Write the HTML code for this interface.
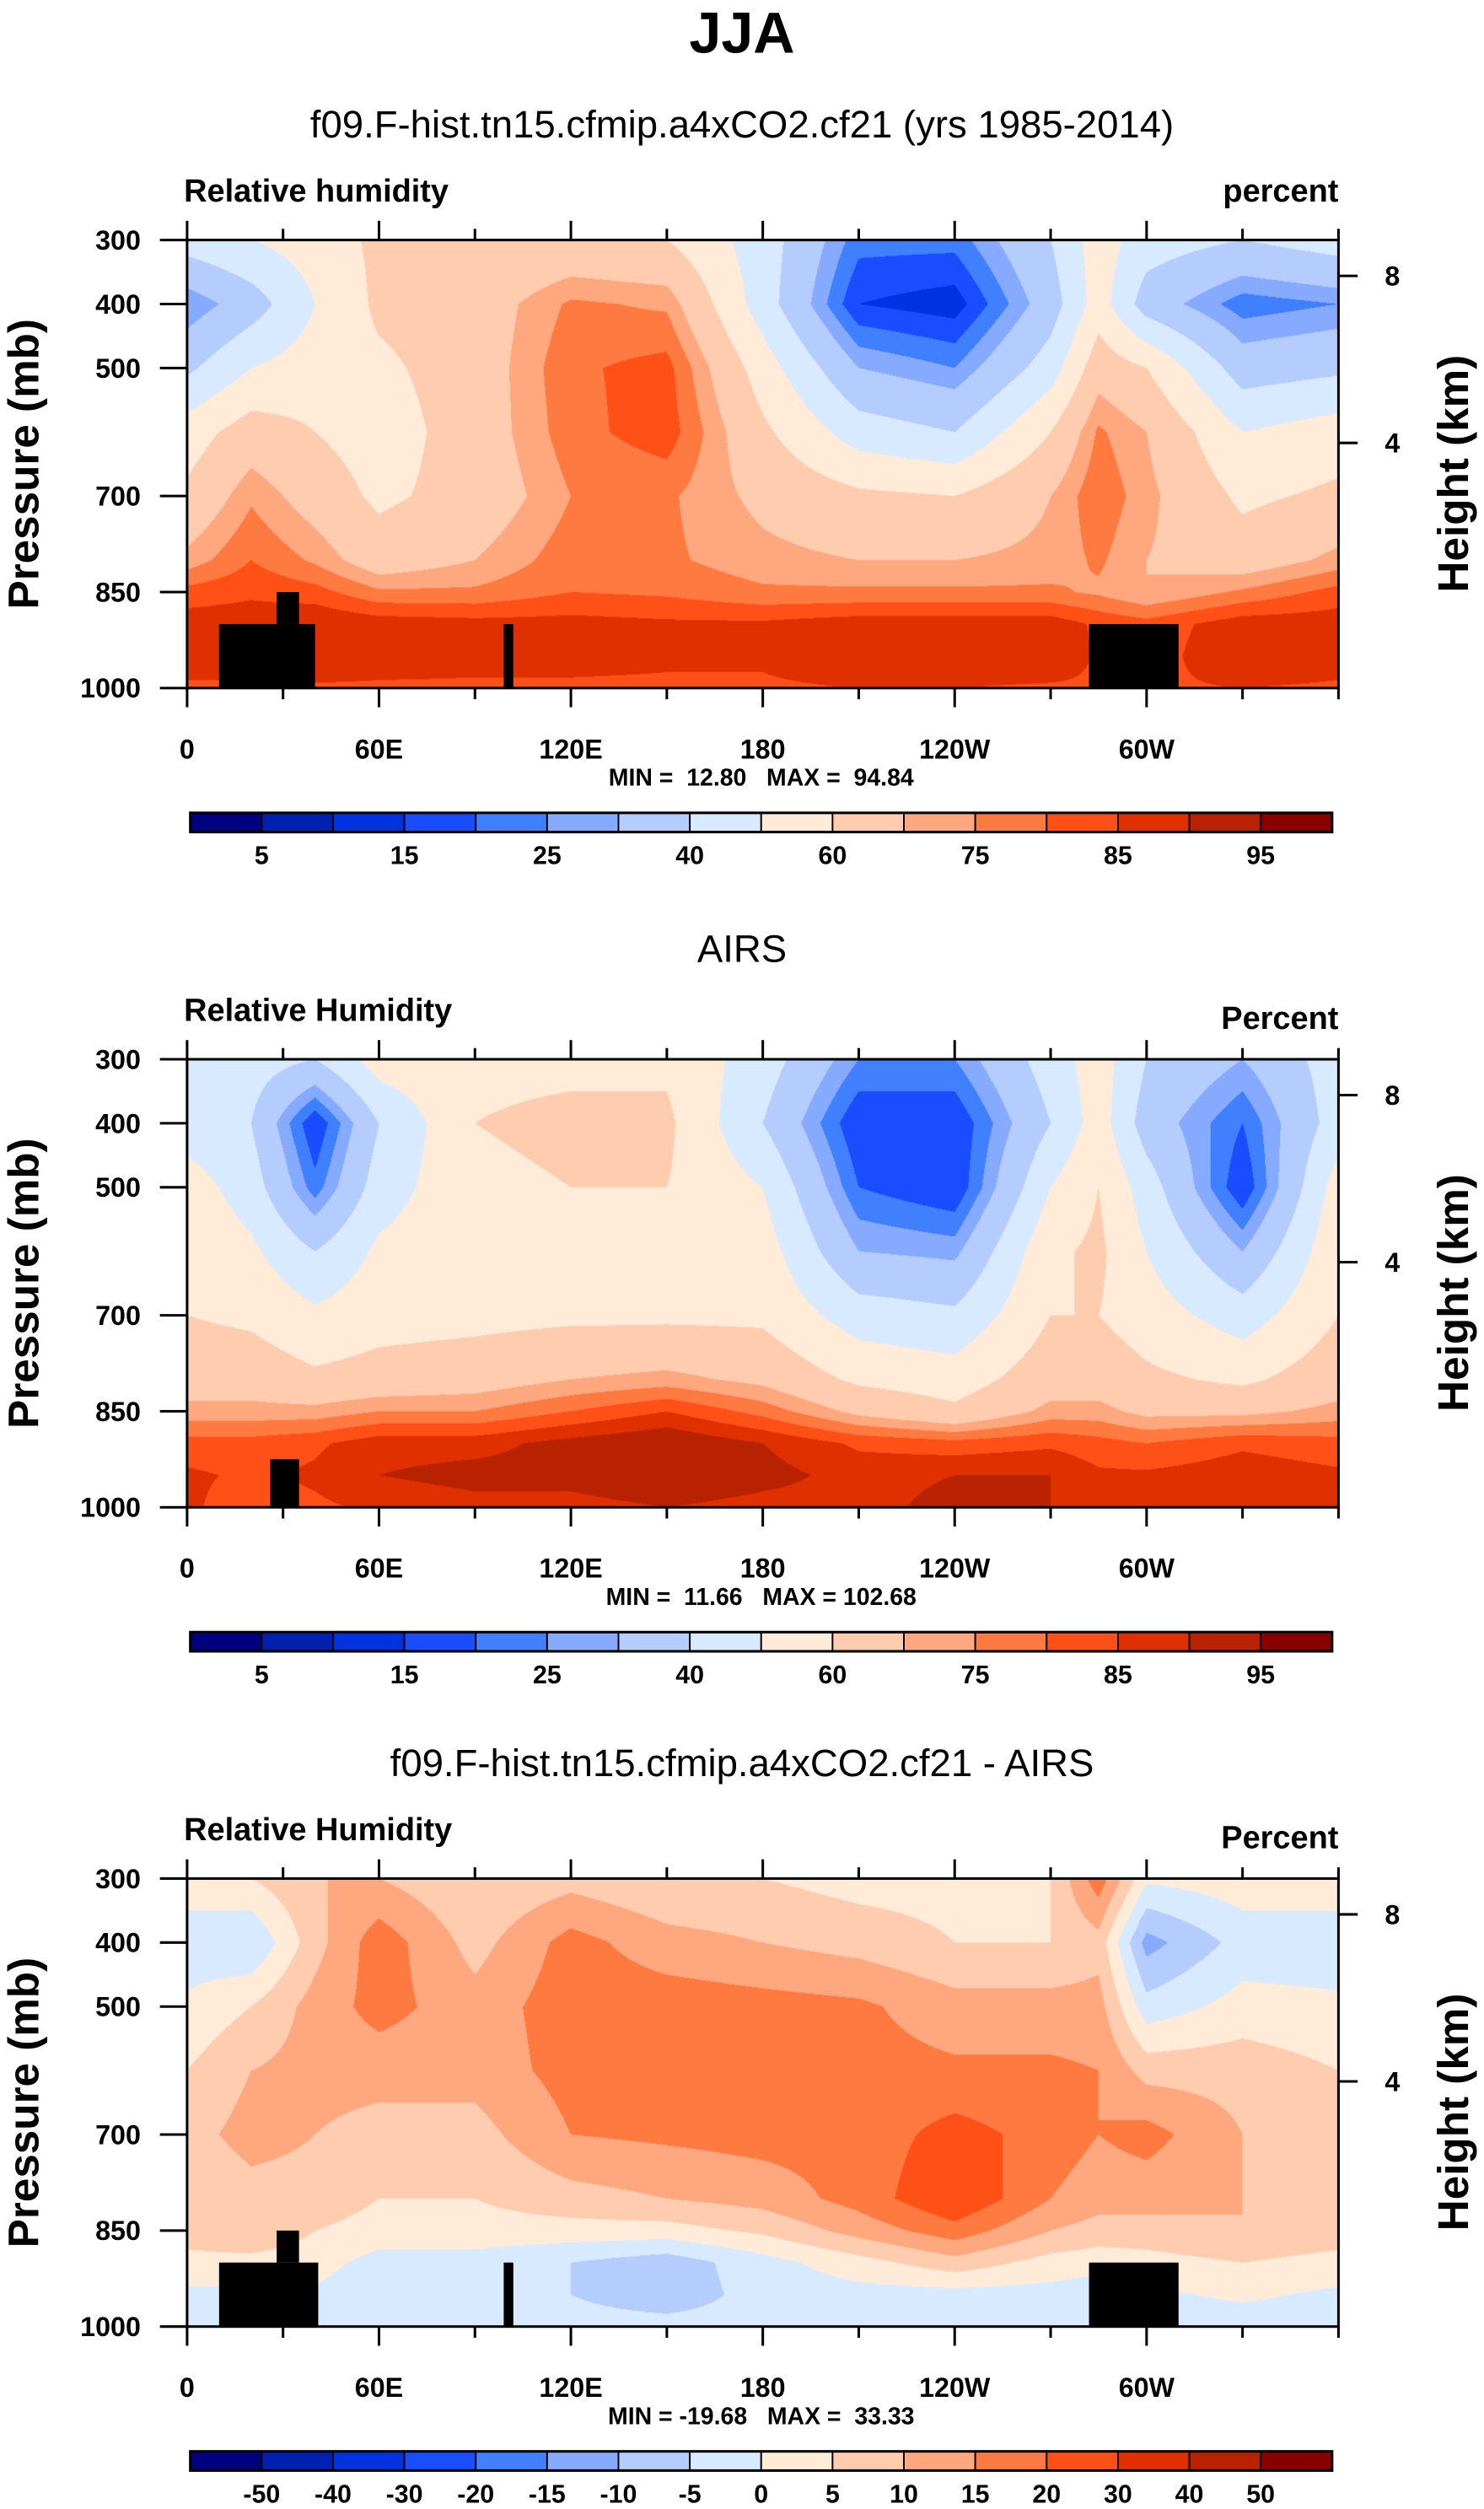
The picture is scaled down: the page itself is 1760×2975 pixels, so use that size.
<!DOCTYPE html>
<html><head><meta charset="utf-8">
<style>
html,body{margin:0;padding:0;background:#fff;}
#root{position:absolute;left:0;top:0;width:928px;height:1568px;transform:scale(1.89655,1.8973);transform-origin:0 0;font-family:"Liberation Sans",Arial,sans-serif;}
canvas{position:absolute;}
svg{position:absolute;left:0;top:0;}
</style></head>
<body>
<div id="root">
<svg id="svg" width="928" height="1568" viewBox="0 0 928 1568"></svg>
</div>
<script>
// ---- data ----
const lons = [0,20,40,60,90,120,150,180,210,240,270,285,300,330,360];
const levels = [300,400,500,600,700,800,850,900,950,1000];
const modelRH = [
[45,25,38,55,62,72,82,88,88,84],
[50,35,50,65,74,80,84,88,88,84],
[55,50,55,60,66,74,82,90,90,84],
[62,62,58,55,58,65,76,88,88,84],
[60,65,65,65,64,70,76,87,87,84],
[62,76,79,78,75,78,80,87,87,84],
[60,74,82,83,76,76,79,86,86,84],
[45,45,55,62,68,72,76,86,86,84],
[22,15,30,45,62,70,76,88,90,85],
[22,12,25,40,60,70,76,88,90,85],
[40,35,45,60,70,72,76,88,90,84],
[55,55,66,76,79,76,74,84,84,84],
[45,35,60,70,72,70,70,82,82,84],
[40,22,35,50,58,65,76,88,90,85],
[45,25,38,55,62,72,82,88,88,84]];
const airsRH = [
[45,45,55,58,60,66,72,82,86,86],
[45,40,45,52,58,66,72,82,84,82],
[40,15,22,40,52,62,72,84,86,84],
[55,40,45,52,56,64,75,88,90,86],
[58,60,58,57,57,66,75,88,92,88],
[58,62,60,57,58,70,80,92,92,88],
[58,62,60,57,58,72,85,95,95,90],
[45,40,50,55,58,68,78,90,92,88],
[25,15,20,30,45,58,68,84,88,88],
[25,15,15,28,42,55,62,82,90,92],
[45,40,50,58,60,66,72,84,90,90],
[55,55,60,62,60,66,72,82,86,86],
[40,35,45,50,55,62,68,80,86,86],
[30,20,15,30,45,58,68,84,88,88],
[45,45,55,58,60,66,72,82,86,86]];
const diffRH = [
[3,-3,1,5,8,5,8,3,-1,-3],
[5,-5,5,10,12,8,10,3,-1,-3],
[10,8,12,12,10,8,5,2,-1,-3],
[10,18,17,12,8,5,3,-2,-3,-3],
[5,8,12,12,8,5,3,-2,-3,-3],
[8,17,18,17,15,8,3,-5,-5,-3],
[5,12,18,18,16,10,3,-8,-8,-3],
[5,10,17,17,17,12,6,-2,-3,-3],
[3,8,16,17,17,17,12,3,-2,-3],
[3,5,12,16,22,25,18,8,-2,-5],
[5,5,12,16,18,15,10,3,-2,-5],
[18,8,12,15,15,12,8,2,-3,-3],
[1,-12,-3,8,17,12,8,3,-1,-3],
[3,-3,2,8,10,10,10,5,1,-3],
[3,-3,1,5,8,5,8,3,-1,-3]];
const rhBounds = [5,10,15,20,25,30,40,50,60,70,75,80,85,90,95];
const rhLabels = ["5","15","25","40","60","75","85","95"];
const diffBounds = [-50,-40,-30,-20,-15,-10,-5,0,5,10,15,20,30,40,50];
const diffLabels = ["-50","-40","-30","-20","-15","-10","-5","0","5","10","15","20","30","40","50"];
const xTickLabels = ["0","60E","120E","180","120W","60W"];
const xTickLons = [0,60,120,180,240,300];
const yTickLabels = [300,400,500,700,850,1000];
const hTickLabels = ["8","4"];
const hTickP = [356,617];
const colors = ['#000080','#0020b0','#0033e0','#1a4dff','#4080ff','#85aaff','#b5ccff','#d8eaff','#ffebd8','#ffccb0','#ffa880','#ff7a40','#ff5018','#e03000','#b82200','#880000'];

const panels = [
 {title:"f09.F-hist.tn15.cfmip.a4xCO2.cf21 (yrs 1985-2014)", left:"Relative humidity", right:"percent", top:150, data:modelRH, bounds:rhBounds, labels:rhLabels, minmax:"MIN =  12.80   MAX =  94.84", cb:508, land:[[10,40,900,1000],[28,35,850,900],[99,102,900,1000],[282,310,900,1000]]},
 {title:"AIRS", left:"Relative Humidity", right:"Percent", top:662, data:airsRH, bounds:rhBounds, labels:rhLabels, minmax:"MIN =  11.66   MAX = 102.68", cb:1020, land:[[26,35,925,1000]]},
 {title:"f09.F-hist.tn15.cfmip.a4xCO2.cf21 - AIRS", left:"Relative Humidity", right:"Percent", top:1174, data:diffRH, bounds:diffBounds, labels:diffLabels, minmax:"MIN = -19.68   MAX =  33.33", cb:1532, land:[[10,41,900,1000],[28,35,850,900],[99,102,900,1000],[282,310,900,1000]]}
];
const titleY = [78,593,1102];

const PX0=117, PW=720, PH=280;
const svg=document.getElementById('svg');
const root=document.getElementById('root');
const NS="http://www.w3.org/2000/svg";
function mk(tag,attrs,parent){const e=document.createElementNS(NS,tag);for(const k in attrs)e.setAttribute(k,attrs[k]);(parent||svg).appendChild(e);return e;}
function txt(x,y,s,size,anchor,weight,parent){const t=mk('text',{x:x,y:y,'font-size':size,'text-anchor':anchor||'middle','font-weight':weight||'bold','font-family':'"Liberation Sans",Arial,sans-serif',fill:'#000'},parent);t.textContent=s;return t;}

function interp(data,lon,p){
  let i=0;while(i<lons.length-2&&lon>lons[i+1])i++;
  let j=0;while(j<levels.length-2&&p>levels[j+1])j++;
  const tx=(lon-lons[i])/(lons[i+1]-lons[i]);
  const ty=(p-levels[j])/(levels[j+1]-levels[j]);
  const a=data[i][j],b=data[i+1][j],c=data[i][j+1],d=data[i+1][j+1];
  return a*(1-tx)*(1-ty)+b*tx*(1-ty)+c*(1-tx)*ty+d*tx*ty;
}
function colIdx(v,bounds){let k=0;while(k<bounds.length&&v>=bounds[k])k++;return k;}
function hex2rgb(h){return [parseInt(h.substr(1,2),16),parseInt(h.substr(3,2),16),parseInt(h.substr(5,2),16)];}
const rgb=colors.map(hex2rgb);
const xOf=lon=>PX0+lon*2;
const yOf=(top,p)=>top+(p-300)*0.4;

const mt=txt(464,33,"JJA",36,'middle','bold');



panels.forEach((P,pi)=>{
  const g=mk('g',{});
  
  
  const S=2;
  const cv=document.createElement('canvas');
  cv.width=PW*S;cv.height=PH*S;
  cv.style.left=PX0+'px';cv.style.top=P.top+'px';cv.style.width=PW+'px';cv.style.height=PH+'px';
  
  
  root.insertBefore(cv,svg);
  const ctx=cv.getContext('2d');const img=ctx.createImageData(cv.width,cv.height);
  for(let y=0;y<cv.height;y++){const p=300+(y+0.5)/S/0.4;
    for(let x=0;x<cv.width;x++){const lon=(x+0.5)/S/2;
      const c=rgb[colIdx(interp(P.data,lon,p),P.bounds)];const o=(y*cv.width+x)*4;
      img.data[o]=c[0];img.data[o+1]=c[1];img.data[o+2]=c[2];img.data[o+3]=255;}}
  ctx.putImageData(img,0,0);
  P.land.forEach(L=>{const r=mk('rect',{x:xOf(L[0]),y:yOf(P.top,L[2]),width:(L[1]-L[0])*2,height:(L[3]-L[2])*0.4,fill:'#000'},g);
    
    });
  const fr=mk('rect',{x:PX0,y:P.top,width:PW,height:PH,fill:'none',stroke:'#000','stroke-width':1.6},g);
  
  
  const tt=txt(464,titleY[pi]+8,P.title,24,'middle','normal',g);
  
  
  const lt=txt(115,P.top-24,P.left,20,'start','bold',g);
  
  
  const rt=txt(837,P.top-(pi==0?24:19),P.right,20,'end','bold',g);
  
  
  for(let lon=0;lon<=360;lon+=30){const major=lon%60==0&&lon<360;const len=major?12:7;const x=xOf(lon);
    mk('line',{x1:x,y1:P.top,x2:x,y2:P.top-len,stroke:'#000','stroke-width':1.6},g);
    mk('line',{x1:x,y1:P.top+PH,x2:x,y2:P.top+PH+len,stroke:'#000','stroke-width':1.6},g);}
  xTickLabels.forEach((s,i)=>{const t=txt(xOf(xTickLons[i]),P.top+PH+44,s,17,'middle','bold',g);
    
    });
  yTickLabels.forEach(p=>{const y=yOf(P.top,p);mk('line',{x1:PX0-17,y1:y,x2:PX0,y2:y,stroke:'#000','stroke-width':1.6},g);
    const t=txt(88,y+6,String(p),17,'end','bold',g);
    
    });
  hTickLabels.forEach((s,i)=>{const y=yOf(P.top,hTickP[i]);mk('line',{x1:PX0+PW,y1:y,x2:PX0+PW+12,y2:y,stroke:'#000','stroke-width':1.6},g);
    const t=txt(866,y+6,s,17,'start','bold',g);
    
    });
  const ya=txt(0,0,"Pressure (mb)",27,'middle','bold',g);ya.setAttribute('transform','translate(24,'+(P.top+140)+') rotate(-90)');
  
  
  const ha=txt(0,0,"Height (km)",27,'middle','bold',g);ha.setAttribute('transform','translate(918,'+(P.top+146)+') rotate(-90)');
  
  
  const mm=txt(476,P.top+PH+61,P.minmax,15,'middle','bold',g);mm.style.whiteSpace='pre';
  
  
  const cbX=119,cbW=714,bw=cbW/16;
  colors.forEach((c,k)=>{const r=mk('rect',{x:cbX+k*bw,y:P.cb,width:bw,height:12,fill:c,stroke:'#000','stroke-width':1},g);
    
    });
  mk('rect',{x:cbX,y:P.cb,width:cbW,height:12,fill:'none',stroke:'#000','stroke-width':1.6},g);
  const step=P.labels.length==8?2:1;
  P.labels.forEach((s,i)=>{const k=step==2?2*i+1:i+1;const t=txt(cbX+k*bw,P.cb+32,s,16,'middle','bold',g);
    
    });
});
</script>
</body></html>
